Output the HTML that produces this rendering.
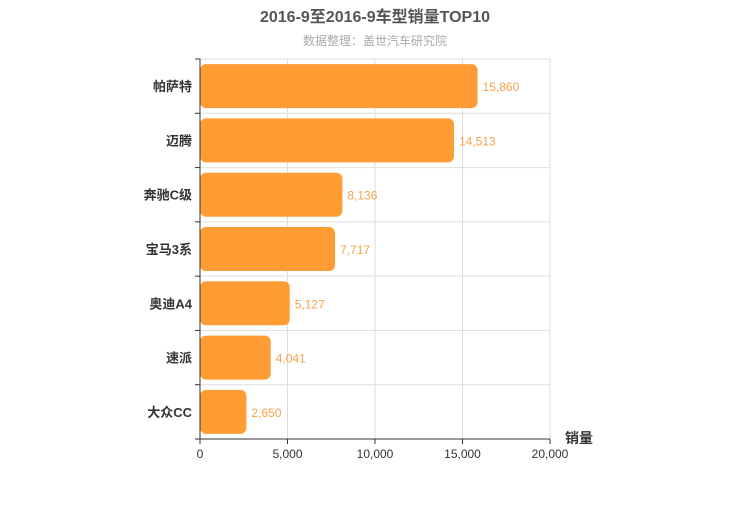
<!DOCTYPE html>
<html><head><meta charset="utf-8"><style>
body{margin:0;background:#fff;}
svg{font-family:"Liberation Sans","Noto Sans CJK SC",sans-serif;}
</style></head><body>
<svg id="c" width="750" height="500">
<text x="375" y="22" text-anchor="middle" font-size="16" font-weight="bold" fill="#555">2016-9至2016-9车型销量TOP10</text>
<text x="375" y="45" text-anchor="middle" font-size="12" fill="#aaa">数据整理：盖世汽车研究院</text>
<g id="grid"></g><g id="bars"></g><g id="axes"></g>
<text x="565" y="443" font-size="14" font-weight="bold" fill="#333">销量</text>
</svg>
<script>
const categories=["帕萨特","迈腾","奔驰C级","宝马3系","奥迪A4","速派","大众CC"];
const values=[15860,14513,8136,7717,5127,4041,2650];
const ticks=[0,5000,10000,15000,20000];
const NS="http://www.w3.org/2000/svg";
const X0=200,X1=550,Y0=59,Y1=439,MAX=20000;
const band=(Y1-Y0)/categories.length;
const xs=v=>X0+(X1-X0)*v/MAX;
function mk(t,a,p){const e=document.createElementNS(NS,t);for(const k in a)e.setAttribute(k,a[k]);p.appendChild(e);return e;}
const grid=document.getElementById('grid'),bars=document.getElementById('bars'),axes=document.getElementById('axes');
ticks.forEach(t=>{
 const l=mk('line',{x1:xs(t),x2:xs(t),y1:Y0,y2:Y1,stroke:'#ddd'},grid);
 
 
 const tk=mk('line',{x1:xs(t),x2:xs(t),y1:Y1,y2:Y1+5,stroke:'#333'},axes);
 
 
 const tx=mk('text',{x:xs(t),y:Y1+19,'text-anchor':'middle','font-size':12,fill:'#333'},axes);
 tx.textContent=t.toLocaleString('en-US');
 
 
});
for(let i=0;i<=categories.length;i++){
 const y=Y0+i*band;
 const g=mk('line',{x1:X0,x2:X1,y1:y,y2:y,stroke:'#ddd'},grid);
 
 
 const tk=mk('line',{x1:X0-5,x2:X0,y1:y,y2:y,stroke:'#333'},axes);
 
 
}
categories.forEach((c,i)=>{
 const yc=Y0+(i+0.5)*band;
 const r=mk('rect',{x:X0,y:yc-22,width:xs(values[i])-X0,height:44,rx:6,fill:'#ff9c33'},bars);
 
 
 const v=mk('text',{x:xs(values[i])+5,y:yc+5,'font-size':12,fill:'#f5a14a'},bars);
 v.textContent=values[i].toLocaleString('en-US');
 
 
 const l=mk('text',{x:X0-8,y:yc+5,'text-anchor':'end','font-size':13,'font-weight':'bold',fill:'#333'},axes);
 l.textContent=c;
 
 
});
const ax=mk('line',{x1:X0,x2:X1,y1:Y1,y2:Y1,stroke:'#333'},axes);


const ay=mk('line',{x1:X0,x2:X0,y1:Y0,y2:Y1,stroke:'#333'},axes);


</script>
</body></html>
